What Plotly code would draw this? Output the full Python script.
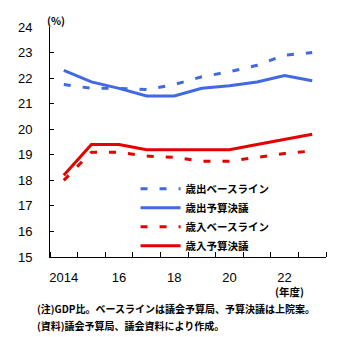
import plotly.graph_objects as go

years = [2014, 2015, 2016, 2017, 2018, 2019, 2020, 2021, 2022, 2023]
spend_baseline = [21.75, 21.6, 21.6, 21.55, 21.75, 22.05, 22.25, 22.5, 22.9, 23.0]
spend_budget = [22.3, 21.85, 21.6, 21.3, 21.3, 21.6, 21.7, 21.85, 22.1, 21.9]
rev_baseline = [18.0, 19.1, 19.1, 18.95, 18.9, 18.75, 18.75, 18.9, 19.05, 19.15]
rev_budget = [18.2, 19.4, 19.4, 19.2, 19.2, 19.2, 19.2, 19.4, 19.6, 19.8]

names = ["歳出ベースライン", "歳出予算決議", "歳入ベースライン", "歳入予算決議"]
x_tickvals = [2014, 2016, 2018, 2020, 2022]
x_ticktext = ["2014", "16", "18", "20", "22"]
y_ticks = list(range(15, 25))

BLUE = "#4169E1"
RED = "#E60000"
JP = "Noto Sans CJK JP"
LAT = "Liberation Sans, Arial"

fig = go.Figure()
series = [
    (spend_baseline, names[0], BLUE, "7px,12px"),
    (spend_budget, names[1], BLUE, "solid"),
    (rev_baseline, names[2], RED, "7px,12px"),
    (rev_budget, names[3], RED, "solid"),
]
for vals, nm, col, dash in series:
    fig.add_trace(go.Scatter(
        x=years, y=vals, name=nm, mode="lines",
        line=dict(color=col, width=3, dash=dash),
    ))

boundaries = [y - 0.5 for y in years] + [years[-1] + 0.5]

fig.update_layout(
    width=356, height=337,
    margin=dict(l=50, r=30, t=27, b=80),
    plot_bgcolor="white", paper_bgcolor="white",
    showlegend=True,
    legend=dict(
        x=0.31, y=0.36, xanchor="left", yanchor="top",
        bgcolor="rgba(0,0,0,0)", borderwidth=0,
        font=dict(family=JP, size=10.5, color="black", weight="bold"),
        itemwidth=40,
        tracegroupgap=0,
    ),
    xaxis=dict(
        range=[years[0] - 0.5, years[-1] + 0.5],
        tickmode="array", tickvals=x_tickvals, ticktext=x_ticktext,
        ticks="", showgrid=False, zeroline=False,
        showline=True, linecolor="black", linewidth=1,
        tickfont=dict(family=LAT, size=13, color="black"),
        ticklabelstandoff=8,
        minor=dict(tickmode="array", tickvals=boundaries, ticks="inside",
                   ticklen=5, tickcolor="black", tickwidth=1, showgrid=False),
    ),
    yaxis=dict(
        range=[15, 24],
        tickmode="array", tickvals=y_ticks,
        ticks="inside", ticklen=4, tickcolor="black", tickwidth=1,
        showgrid=False, zeroline=False,
        showline=True, linecolor="black", linewidth=1,
        tickfont=dict(family=LAT, size=13, color="black"),
        ticklabelstandoff=14,
    ),
    annotations=[
        dict(text="(%)", xref="paper", yref="paper", x=0.02, y=1.03,
             showarrow=False, xanchor="center", yanchor="middle",
             font=dict(family=JP, size=10.5, color="black", weight="bold")),
        dict(text="(年度)", xref="x", yref="paper", x=2022, y=-0.148,
             showarrow=False, xanchor="center", yanchor="middle", xshift=5,
             font=dict(family=JP, size=10.5, color="black", weight="bold")),
        dict(text="(注)GDP比。ベースラインは議会予算局、予算決議は上院案。",
             xref="paper", yref="paper", x=-0.054, y=-0.226,
             showarrow=False, xanchor="left", yanchor="middle",
             font=dict(family=JP, size=10, color="black", weight="bold")),
        dict(text="(資料)議会予算局、議会資料により作成。",
             xref="paper", yref="paper", x=-0.054, y=-0.296,
             showarrow=False, xanchor="left", yanchor="middle",
             font=dict(family=JP, size=10, color="black", weight="bold")),
    ],
)

fig.write_html("out.html")
